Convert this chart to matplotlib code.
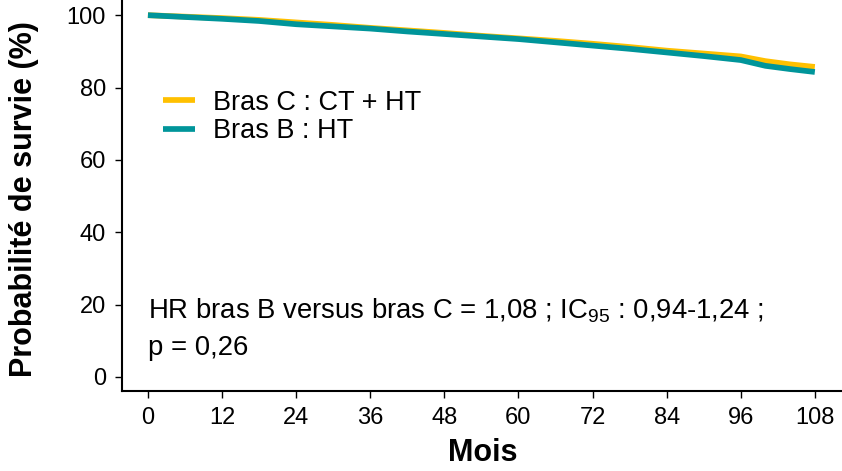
import numpy as np
import matplotlib.pyplot as plt

plt.rcParams['font.family'] = ['Liberation Sans', 'DejaVu Sans']
plt.rcParams['mathtext.fontset'] = 'custom'
plt.rcParams['mathtext.rm'] = 'Liberation Sans'

months = [0, 6, 12, 18, 24, 30, 36, 42, 48, 54, 60, 66, 72, 78, 84, 90, 96, 100, 104, 108]
bras_c = [100, 99.6, 99.2, 98.7, 98.0, 97.3, 96.5, 95.8, 95.1, 94.3, 93.6, 92.9,
          92.1, 91.2, 90.2, 89.4, 88.6, 87.3, 86.4, 85.7]
bras_b = [100, 99.5, 99.0, 98.4, 97.5, 96.9, 96.3, 95.5, 94.8, 94.1, 93.4, 92.5,
          91.6, 90.7, 89.7, 88.7, 87.6, 86.0, 85.1, 84.3]
x_ticks = np.arange(0, 109, 12)
y_ticks = np.arange(0, 101, 20)

fig = plt.figure(figsize=(8.42, 4.71), dpi=100)
ax = fig.add_axes([122 / 842, 80 / 471, 720 / 842, 391 / 471])

ax.plot(months, bras_c, color='#FFC000', lw=4.1, label='Bras C : CT + HT', solid_capstyle='butt')
ax.plot(months, bras_b, color='#00959A', lw=4.1, label='Bras B : HT', solid_capstyle='butt')

ax.set_xlim(-4.2, 112.4)
ax.set_ylim(-3.9, 104.2)
ax.set_xticks(x_ticks)
ax.set_yticks(y_ticks)
ax.tick_params(labelsize=17, length=5, width=1, direction='out', pad=6.5)
for s in ['top', 'right']:
    ax.spines[s].set_visible(False)
for s in ['left', 'bottom']:
    ax.spines[s].set_linewidth(1.5)

ax.set_xlabel('Mois', fontsize=22, fontweight='bold')
ax.set_ylabel('Probabilité de survie (%)', fontsize=22, fontweight='bold')
ax.xaxis.set_label_coords(0.501, -0.12)
ax.yaxis.set_label_coords(-0.115, 0.491)

ax.legend(loc='upper left', bbox_to_anchor=(0.0575, 0.77), frameon=False, fontsize=19.5,
          handlelength=1.18, handletextpad=0.66, labelspacing=0.08, borderpad=0,
          borderaxespad=0)

ax.text(0, 16.3, 'HR bras B versus bras C = 1,08 ; IC$_{95}$ : 0,94-1,24 ;',
        fontsize=19.8, va='baseline', ha='left')
ax.text(0, 6.1, 'p = 0,26', fontsize=19.8, va='baseline', ha='left')

fig.savefig('out.png', dpi=100)
